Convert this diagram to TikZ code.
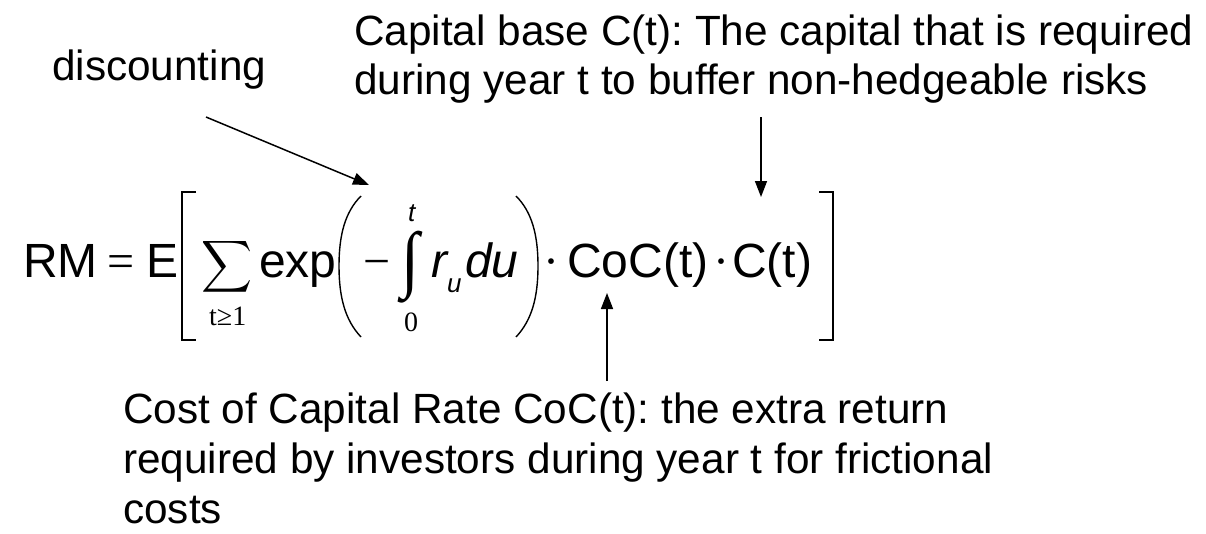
\documentclass[tikz,border=0pt]{standalone}
\usepackage{fontspec}
\setmainfont{Liberation Sans}
\newfontfamily\timesf{Liberation Serif}
\usetikzlibrary{arrows.meta}
\frenchspacing
\begin{document}
\begin{tikzpicture}[x=1pt,y=-1pt,
  lbl/.style={font=\fontsize{42.3}{50}\selectfont\frenchspacing, inner sep=0pt, anchor=base west},
  fml/.style={font=\fontsize{48}{52}\selectfont, inner sep=0pt, anchor=base west},
  fmlser/.style={font=\fontsize{48}{52}\selectfont\timesf, inner sep=0pt, anchor=base west},
  fmlit/.style={font=\fontsize{48}{52}\selectfont\itshape, inner sep=0pt, anchor=base west},
  smallser/.style={font=\fontsize{28}{30}\selectfont\timesf, inner sep=0pt, anchor=base west},
  smallit/.style={font=\fontsize{26}{28}\selectfont\itshape, inner sep=0pt, anchor=base west},
  arr/.style={line width=1.5pt, -{Triangle[length=16pt,width=12pt]}},
  brk/.style={line width=1.4pt},
  paren/.style={line width=1.4pt}]
\useasboundingbox (0,0) rectangle (1206,533);
% labels
\node[lbl] (disc) at (52,80) {discounting};
\node[lbl] (cap1) at (354,45) {Capital base C(t): The capital that is required};
\node[lbl] (cap2) at (354,94) {during year t to buffer non-hedgeable risks};
\node[lbl] (coc1) at (123,423) {Cost of Capital Rate CoC(t): the extra return};
\node[lbl] (coc2) at (123,473) {required by investors during year t for frictional};
\node[lbl] (coc3) at (123,523) {costs};
% formula
\node[fml] (rm) at (23,277) {RM};
\node[fmlser] (eq) at (107,277) {=};
\node[fml] (E) at (146,277) {E};
\draw[brk] (196,192) -| (182,340) -- (196,340);
\node[inner sep=0pt, anchor=north west] (sum) at (201,238) {\resizebox*{51pt}{58pt}{$\displaystyle\sum$}};
\node[smallser] (sumlim) at (209,325) {t≥1};
\node[fml] (exp) at (259,277) {exp};
\draw[paren] (361,196) .. controls (345,212) and (339,235) .. (339,266) .. controls (339,297) and (345,320) .. (361,337);
\node[fmlser] (minus) at (363,277) {−};
\node[inner sep=0pt, anchor=north west] (int) at (401,231) {\resizebox*{18pt}{72pt}{\timesf ∫}};
\node[smallit] (ilim) at (408,221) {t};
\node[smallser] (llim) at (404,331) {0};
\node[fmlit] (r) at (431,277) {r};
\node[smallit] (u) at (447,292) {u};
\node[fmlit] (du) at (465,277) {du};
\draw[paren] (516,196) .. controls (532,212) and (538,235) .. (538,266) .. controls (538,297) and (532,320) .. (516,337);
\node[fmlser] (dot1) at (543,277) {·};
\node[fml] (coc) at (567,277) {CoC(t)};
\node[fmlser] (dot2) at (713,277) {·};
\node[fml] (ct) at (732,277) {C(t)};
\draw[brk] (819,192) -| (833,340) -- (819,340);
% arrows
\coordinate (da) at (206,117);
\coordinate (db) at (369,185);
\draw[arr] (da) -- (db);
\coordinate (ca) at (761,117);
\coordinate (cb) at (761,197);
\draw[arr] (ca) -- (cb);
\coordinate (ka) at (607,381);
\coordinate (kb) at (607,293);
\draw[arr] (ka) -- (kb);
\end{tikzpicture}
\end{document}
